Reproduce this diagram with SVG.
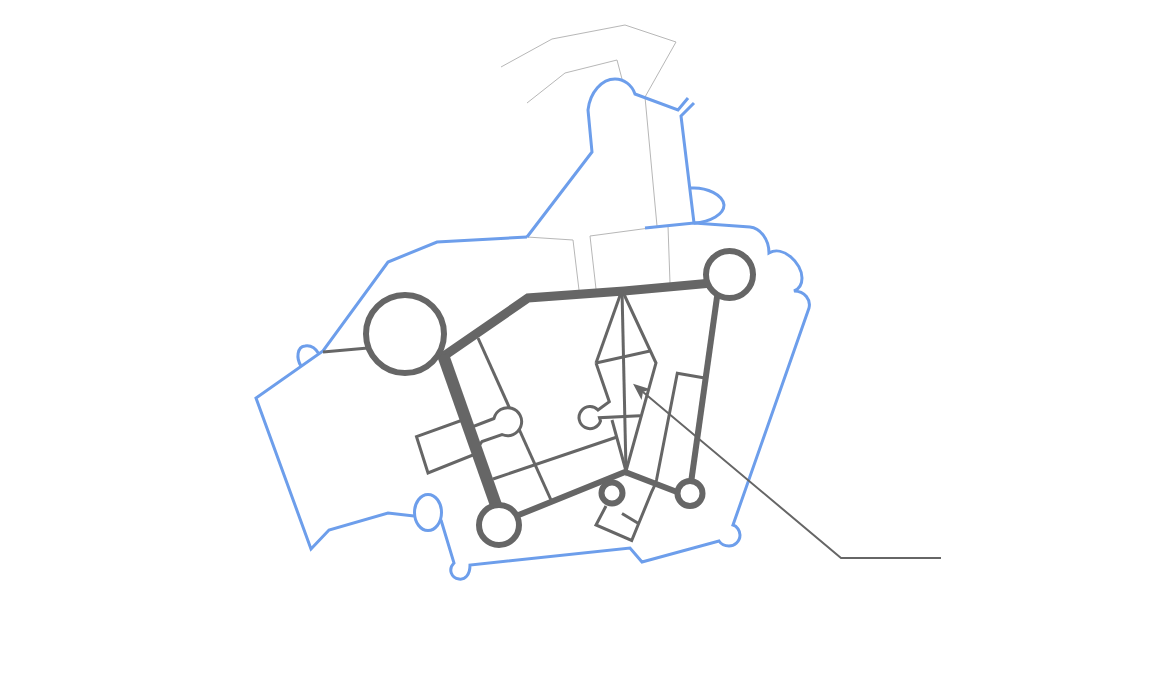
<svg xmlns="http://www.w3.org/2000/svg" width="1161" height="699" viewBox="0 0 1161 699">
<style>
.b{fill:none;stroke:#6d9eeb;stroke-width:3;stroke-linejoin:miter}
.t{fill:none;stroke:#b7b7b7;stroke-width:1}
.g{fill:none;stroke:#666;stroke-width:3}
.n{fill:#fff;stroke:#666;stroke-width:6}
.c{fill:none;stroke:#666}
</style>
<defs><marker id="ah" markerUnits="userSpaceOnUse" markerWidth="18" markerHeight="16" refX="4" refY="7" orient="auto"><path d="M17 7L0 0L4 7L0 14Z" fill="#666"/></marker></defs>
<g id="thin-lines">
<path class="t" d="M501 67L552 39L625 25L676 42L645 97L657 226"/>
<path class="t" d="M527 103L565 73L617 60L622 79"/>
<path class="t" d="M527 237L573 240L579 290"/>
<path class="t" d="M596 289L590 236L657 227L668 226L670 283"/>
</g>
<g id="outline">
<path class="b" d="M527 237L592 152L588 110C590 92 602 79 615 79C624 79 632 85 635 94L678 110L688 98"/>
<path class="b" d="M694 103L681 116L694 223"/>
<path class="b" d="M691 188C707 187 723 195 724 205C724 214 711 222 694 223"/>
<path class="b" d="M645 228L694 223L750 227C760 228 769 239 769 253C783 245 802 263 802 278C802 284 799 289 794 291C805 291 811 300 809 308L733 525C737 526 740 531 740 535C740 542 734 546 729 546C725 546 721 544 719 541L642 562L630 548L470 565C470 575 465 580 459 579C451 578 448 569 454 563L441 520"/>
<path class="b" d="M527 237L437 242L388 262L323 351L256 398L311 549L329 530L388 513L414 516"/>
<ellipse class="b" cx="428" cy="512.500" rx="13.500" ry="18"/>
<path class="b" d="M301 366C296 358 297 347 305 346C311 345 316 349 319 354"/>
</g>
<g id="connectors">
<path class="g" d="M323 352L368 348"/>
<path class="g" d="M478 338L551 500"/>
<path class="g" d="M493 479L617 437"/>
<path class="g" style="fill:#fff" d="M494 418.500L472 427L464 419.500L416.500 436.700L428 473L473 455L482 441.500L502 434.500A14 14 0 1 0 494 418.500Z"/>
<path class="c" style="stroke-width:9" d="M441 358L528 298L624 291L712 283"/>
<path class="c" style="stroke-width:12" d="M443 355L497 508"/>
<path class="c" style="stroke-width:6" d="M718 290L690 490"/>
<path class="c" style="stroke-width:6" d="M499 523L625 472L690 497"/>
<path class="g" d="M596 363L609.300 401.700L598 410A11 11 0 1 0 600.500 421L599.500 417.700L640 415.700"/>
<path class="g" d="M622 290L596 363"/>
<path class="g" d="M622 290L656 363L626 471L612 420"/>
<path class="g" d="M622 290L626 471"/>
<path class="g" d="M596 363L650 351"/>
<path class="g" d="M703.300 377.700L677.300 373.300L656.500 480Q655 486 651.700 491.700L631.700 540.500L596 525L606 506"/>
<path class="g" d="M622 513.500L638.500 523.500"/>
<path class="c" style="stroke-width:2" d="M941 558H841L643 392" marker-end="url(#ah)"/>
</g>
<g id="node-large"><circle class="n" cx="405" cy="334" r="39"/></g>
<g id="node-top-right"><circle class="n" cx="729.500" cy="274.500" r="23.500"/></g>
<g id="node-bottom-left"><circle class="n" cx="499" cy="525" r="20"/></g>
<g id="node-small-a"><circle class="n" cx="612" cy="493" r="10.500"/></g>
<g id="node-small-b"><circle class="n" cx="690" cy="493.500" r="12.500"/></g>
</svg>
